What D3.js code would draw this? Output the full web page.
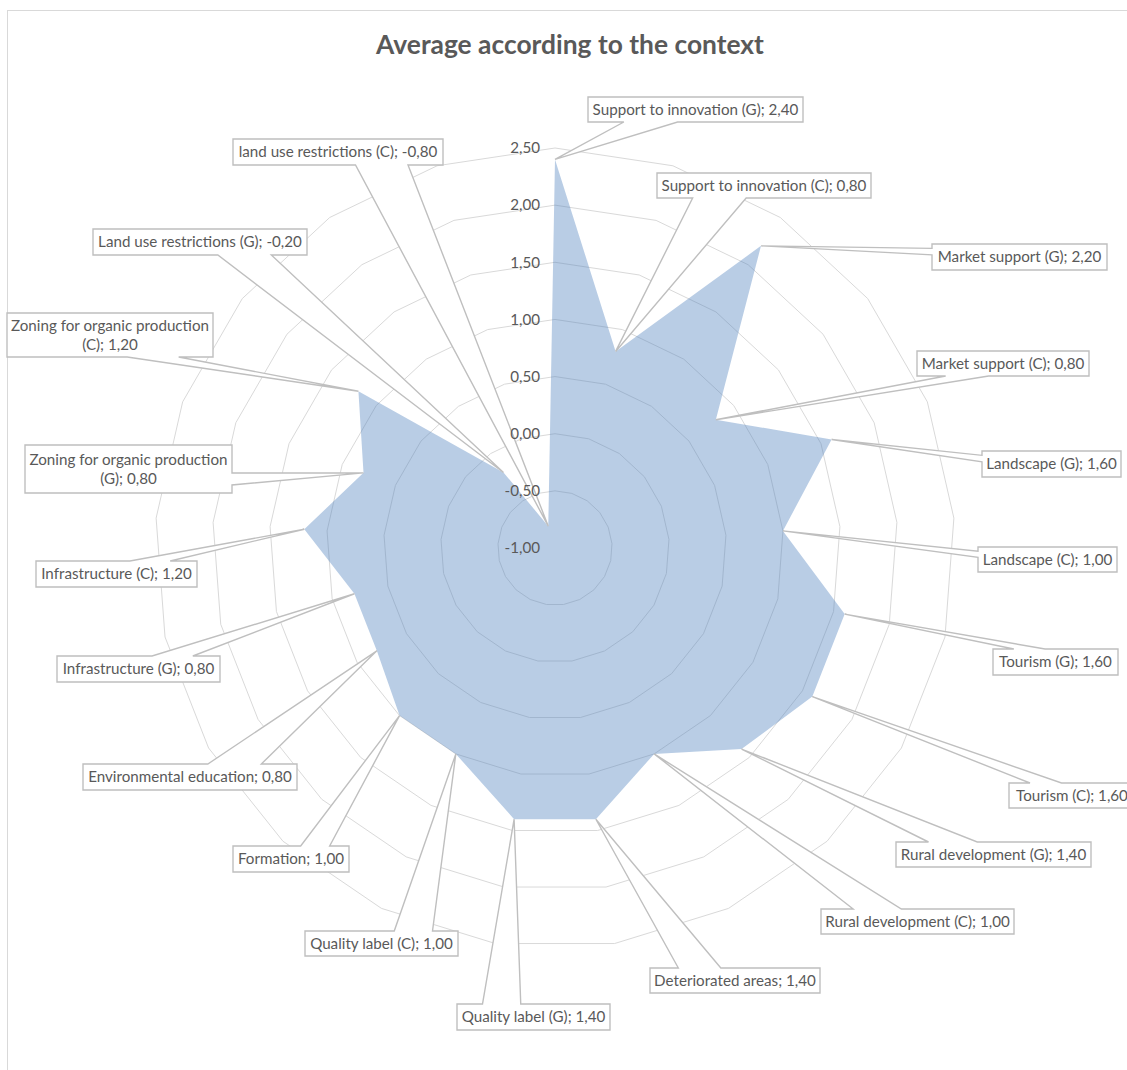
<!DOCTYPE html>
<html>
<head>
<meta charset="utf-8">
<script src="https://cdn.jsdelivr.net/npm/d3@7"></script>
<style>
  body { margin: 0; background: #ffffff; }
  svg { display: block; }
</style>
</head>
<body>
<svg id="chart" width="1127" height="1070"></svg>
<script>
// ---- data ----
const chartTitle = "Average according to the context";

const categories = [
  "Support to innovation (G)",
  "Support to innovation (C)",
  "Market support (G)",
  "Market support (C)",
  "Landscape (G)",
  "Landscape (C)",
  "Tourism (G)",
  "Tourism (C)",
  "Rural development (G)",
  "Rural development (C)",
  "Deteriorated areas",
  "Quality label (G)",
  "Quality label (C)",
  "Formation",
  "Environmental education",
  "Infrastructure (G)",
  "Infrastructure (C)",
  "Zoning for organic production (G)",
  "Zoning for organic production (C)",
  "Land use restrictions (G)",
  "land use restrictions (C)"
];

const values = [2.4, 0.8, 2.2, 0.8, 1.6, 1.0, 1.6, 1.6, 1.4, 1.0, 1.4,
                1.4, 1.0, 1.0, 0.8, 0.8, 1.2, 0.8, 1.2, -0.2, -0.8];

const axisTicks = [-1, -0.5, 0, 0.5, 1, 1.5, 2, 2.5];

// ---- layout: data-label boxes [x0, y0, x1, y1], one per category ----
const labelBoxes = [
  [588, 97, 803, 122],
  [657, 173, 871, 198],
  [932, 244, 1107, 270],
  [917, 351, 1089, 376],
  [982, 451, 1121, 477],
  [978, 547, 1117, 572],
  [993, 649, 1118, 675],
  [1009, 783, 1135, 808],
  [896, 842, 1091, 867],
  [821, 909, 1014, 934],
  [650, 968, 820, 993],
  [457, 1004, 610, 1030],
  [305, 931, 458, 956],
  [233, 846, 349, 872],
  [83, 764, 297, 790],
  [57, 656, 220, 682],
  [36, 561, 197, 587],
  [25, 445, 232, 493],
  [7, 313, 213, 357],
  [93, 229, 307, 255],
  [233, 139, 443, 165]
];
// labels that wrap onto two lines after this prefix
const wrapAt = { 17: "Zoning for organic production", 18: "Zoning for organic production" };

// ---- setup ----
const svg = d3.select("#chart");
const textColor = "#595959";
const fontFamily = "Lato, 'Open Sans', 'DejaVu Sans', sans-serif";
const cx = 555, cy = 548, R = 400;

const locale = d3.formatLocale({ decimal: ",", thousands: ".", grouping: [3], currency: ["", ""], minus: "-" });
const fmt = locale.format(".2f");

const r = d3.scaleLinear().domain([axisTicks[0], axisTicks[axisTicks.length - 1]]).range([0, R]);
const angle = d3.scaleLinear().domain([0, categories.length]).range([0, 2 * Math.PI]);

function measure(text, size, weight) {
  const t = svg.append("text")
    .attr("font-family", fontFamily).attr("font-size", size)
    .attr("font-weight", weight || "normal").text(text);
  const w = t.node().getComputedTextLength();
  t.remove();
  return w;
}
// text size tuned so the longest single-line label fills its box
const labelSize = 100 * 206 / measure("Support to innovation (G); 2,40", 100);
const titleSize = 100 * 388 / measure(chartTitle, 100, "bold");

// outer chart frame
svg.append("rect")
  .attr("x", 7.5).attr("y", 10.5).attr("width", 1300).attr("height", 1300)
  .attr("fill", "none").attr("stroke", "#d9d9d9").attr("stroke-width", 1);

// title
svg.append("text")
  .attr("x", 570).attr("y", 54)
  .attr("text-anchor", "middle")
  .attr("font-family", fontFamily).attr("font-weight", "bold")
  .attr("font-size", titleSize).attr("fill", textColor)
  .text(chartTitle);

const g = svg.append("g").attr("transform", `translate(${cx},${cy})`);

// polygon gridlines
const ringLine = d3.lineRadial()
  .angle((d, i) => angle(i))
  .radius(d => r(d))
  .curve(d3.curveLinearClosed);

g.append("g").selectAll("path")
  .data(axisTicks.filter(t => t > axisTicks[0]))
  .join("path")
  .attr("d", t => ringLine(categories.map(() => t)))
  .attr("fill", "none")
  .attr("stroke", "#d9d9d9")
  .attr("stroke-width", 1);

// filled series
const areaLine = d3.lineRadial()
  .angle((d, i) => angle(i))
  .radius(d => r(d))
  .curve(d3.curveLinearClosed);

g.append("path")
  .datum(values)
  .attr("d", areaLine)
  .attr("fill", "rgb(79,129,189)")
  .attr("fill-opacity", 0.4)
  .attr("stroke", "none");

// callout outline: rectangle with a wedge pointing at the data point
function calloutPath(b, tip) {
  const [x0, y0, x1, y1] = b;
  const w = x1 - x0, h = y1 - y0;
  const dx = tip[0] - (x0 + x1) / 2, dy = tip[1] - (y0 + y1) / 2;
  const sdx = dx * h / w;
  const xa = dx >= 0 ? [7, 10] : [2, 5];
  const ya = dy >= 0 ? [7, 10] : [2, 5];
  const wx1 = x0 + w * xa[0] / 12, wx2 = x0 + w * xa[1] / 12;
  const wy1 = y0 + h * ya[0] / 12, wy2 = y0 + h * ya[1] / 12;
  const vertical = Math.abs(dy) >= Math.abs(sdx);
  const side = vertical ? (dy < 0 ? "top" : "bottom") : (dx < 0 ? "left" : "right");
  const p = d3.path();
  p.moveTo(x0, y0);
  if (side === "top") { p.lineTo(wx1, y0); p.lineTo(tip[0], tip[1]); p.lineTo(wx2, y0); }
  p.lineTo(x1, y0);
  if (side === "right") { p.lineTo(x1, wy1); p.lineTo(tip[0], tip[1]); p.lineTo(x1, wy2); }
  p.lineTo(x1, y1);
  if (side === "bottom") { p.lineTo(wx2, y1); p.lineTo(tip[0], tip[1]); p.lineTo(wx1, y1); }
  p.lineTo(x0, y1);
  if (side === "left") { p.lineTo(x0, wy2); p.lineTo(tip[0], tip[1]); p.lineTo(x0, wy1); }
  p.closePath();
  return p.toString();
}

const points = values.map((v, i) => {
  const a = angle(i);
  return [cx + r(v) * Math.sin(a), cy - r(v) * Math.cos(a)];
});

const labels = svg.append("g").selectAll("g")
  .data(categories.map((c, i) => ({ name: c, value: values[i], box: labelBoxes[i], tip: points[i], i })))
  .join("g");

labels.append("path")
  .attr("d", d => calloutPath(d.box, d.tip))
  .attr("fill", "#ffffff")
  .attr("stroke", "#bfbfbf")
  .attr("stroke-width", 1.4)
  .attr("stroke-linejoin", "miter");

labels.each(function (d) {
  const full = `${d.name}; ${fmt(d.value)}`;
  const [x0, y0, x1, y1] = d.box;
  const mx = (x0 + x1) / 2, my = (y0 + y1) / 2;
  const t = d3.select(this).append("text")
    .attr("text-anchor", "middle")
    .attr("font-family", fontFamily)
    .attr("font-size", labelSize)
    .attr("fill", textColor);
  const first = wrapAt[d.i];
  if (first && full.startsWith(first)) {
    const rest = full.slice(first.length).trim();
    t.append("tspan").attr("x", mx).attr("y", my - 9.5).attr("dy", "0.35em").text(first);
    t.append("tspan").attr("x", mx).attr("y", my + 9.5).attr("dy", "0.35em").text(rest);
  } else {
    t.attr("x", mx).attr("y", my).attr("dy", "0.35em").text(full);
  }
});

// radial value labels along the top spoke, drawn above the callout pointers
svg.append("g").attr("transform", `translate(${cx},${cy})`)
  .selectAll("text")
  .data(axisTicks)
  .join("text")
  .attr("x", -15)
  .attr("y", t => -r(t))
  .attr("dy", "0.35em")
  .attr("text-anchor", "end")
  .attr("font-family", fontFamily)
  .attr("font-size", labelSize)
  .attr("fill", textColor)
  .text(t => fmt(t));
</script>
</body>
</html>
